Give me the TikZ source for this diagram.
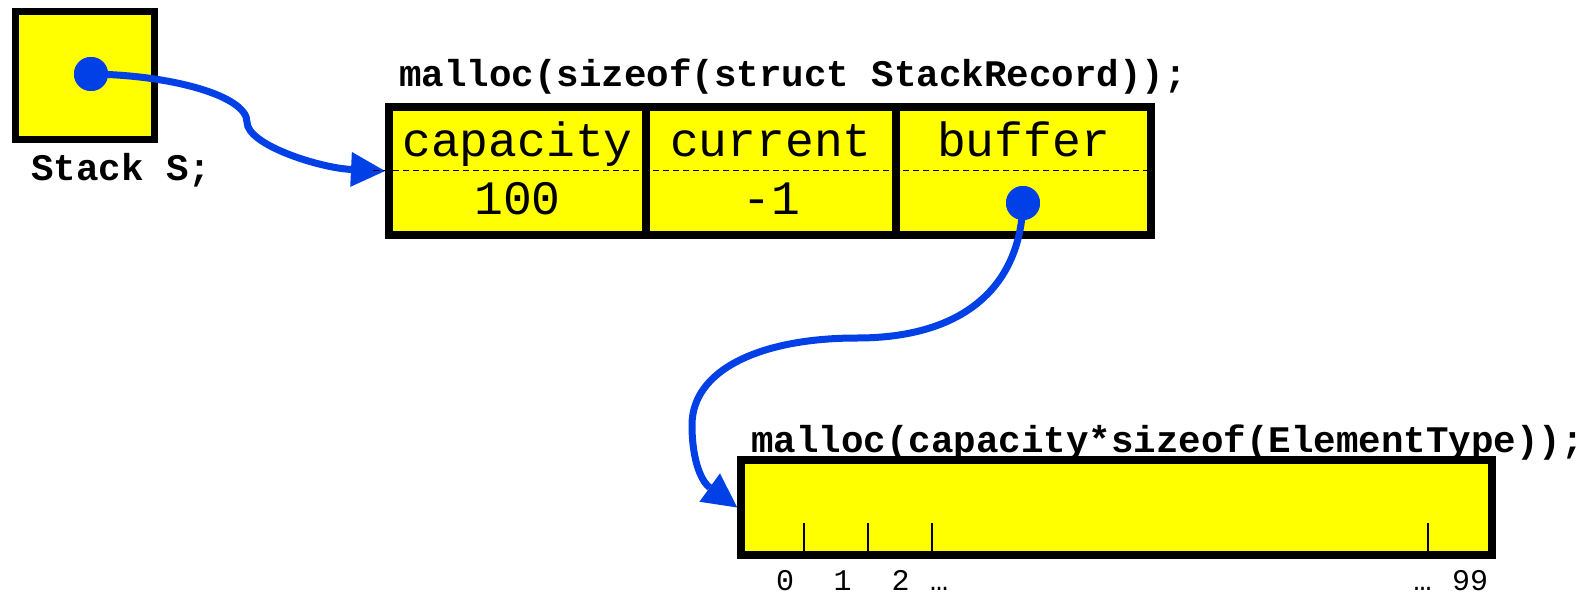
\documentclass[tikz,border=0pt]{standalone}
\usepackage{fontspec}
\setmonofont{Liberation Mono}
\usetikzlibrary{arrows.meta}
\definecolor{ptrblue}{RGB}{0,64,230}
\definecolor{cellyellow}{RGB}{255,255,0}
\begin{document}
\begin{tikzpicture}[x=1pt,y=-1pt,
  box/.style={rectangle, draw=black, fill=cellyellow, inner sep=0pt},
  cell/.style={box, line width=8pt, minimum height=128pt},
  pdot/.style={circle, fill=ptrblue, minimum size=34pt, inner sep=0pt},
  ptr/.style={draw=ptrblue, line width=7pt,
    -{Triangle[length=34pt,width=35pt,line width=0pt]}},
  code/.style={font=\fontsize{37.5}{40}\selectfont\ttfamily\bfseries,
    inner sep=0pt, anchor=base west},
  field/.style={font=\fontsize{48}{50}\selectfont\ttfamily,
    inner sep=0pt, anchor=base},
  idx/.style={font=\fontsize{30}{32}\selectfont\ttfamily,
    inner sep=0pt, anchor=base},
  tickline/.style={line width=1.5pt},
  splitline/.style={line width=1.5pt, dash pattern=on 6pt off 4pt}
]
\useasboundingbox (0,0) rectangle (1589,594);

% the pointer variable S
\node[box, line width=7pt, minimum width=139pt, minimum height=128pt]
  (stk) at (85,75.5) {};
\node[code] (stklbl) at (31,180) {Stack S;};

% the StackRecord structure
\node[code] (rechdr) at (399,86) {malloc(sizeof(struct StackRecord));};
\node[cell, minimum width=257pt] (capcell) at (517.5,171) {};
\node[cell, minimum width=250pt] (curcell) at (771,171) {};
\node[cell, minimum width=255pt] (bufcell) at (1023.5,171) {};
\node[field] (capname) at (517.5,156) {capacity};
\node[field] (curname) at (771,156) {current};
\node[field] (bufname) at (1023.5,156) {buffer};
\node[field] (capval) at (517.5,214) {100};
\node[field] (curval) at (771,214) {-1};

% the element buffer
\node[code] (arrhdr) at (751,452) {malloc(capacity*sizeof(ElementType));};
\node[box, line width=7.5pt, minimum width=751pt, minimum height=95pt]
  (arr) at (1116.5,507.5) {};
\foreach \x in {804,868,932,1428}
  \draw[tickline] (\x,523) -- (\x,552);
\node[idx] (i0) at (785,590) {0};
\node[idx] (i1) at (842.5,590) {1};
\node[idx] (i2) at (900.5,590) {2};
\node[idx] (idots) at (939,590) {…};
\node[idx] (jdots) at (1422.5,590) {…};
\node[idx] (i99) at (1470,590) {99};

% pointer dots
\node[pdot] (sdot) at (91,74) {};
\node[pdot] (bdot) at (1023,203) {};

% pointers
\draw[ptr] (sdot.center) .. controls (172,75) and (247,96) .. (247,122)
  .. controls (247,145) and (320,168) .. (capcell.west);
\draw[ptr] (bdot.center) .. controls (1020,290) and (960,338) .. (857,338)
  .. controls (760,338) and (692,370) .. (692,425)
  .. controls (692,462) and (702,482) .. (arr.west);
\node[pdot] at (sdot) {};
\node[pdot] at (bdot) {};

% name / value split across the record
\draw[splitline] (373,170.5) -- (1149,170.5);
\end{tikzpicture}
\end{document}
